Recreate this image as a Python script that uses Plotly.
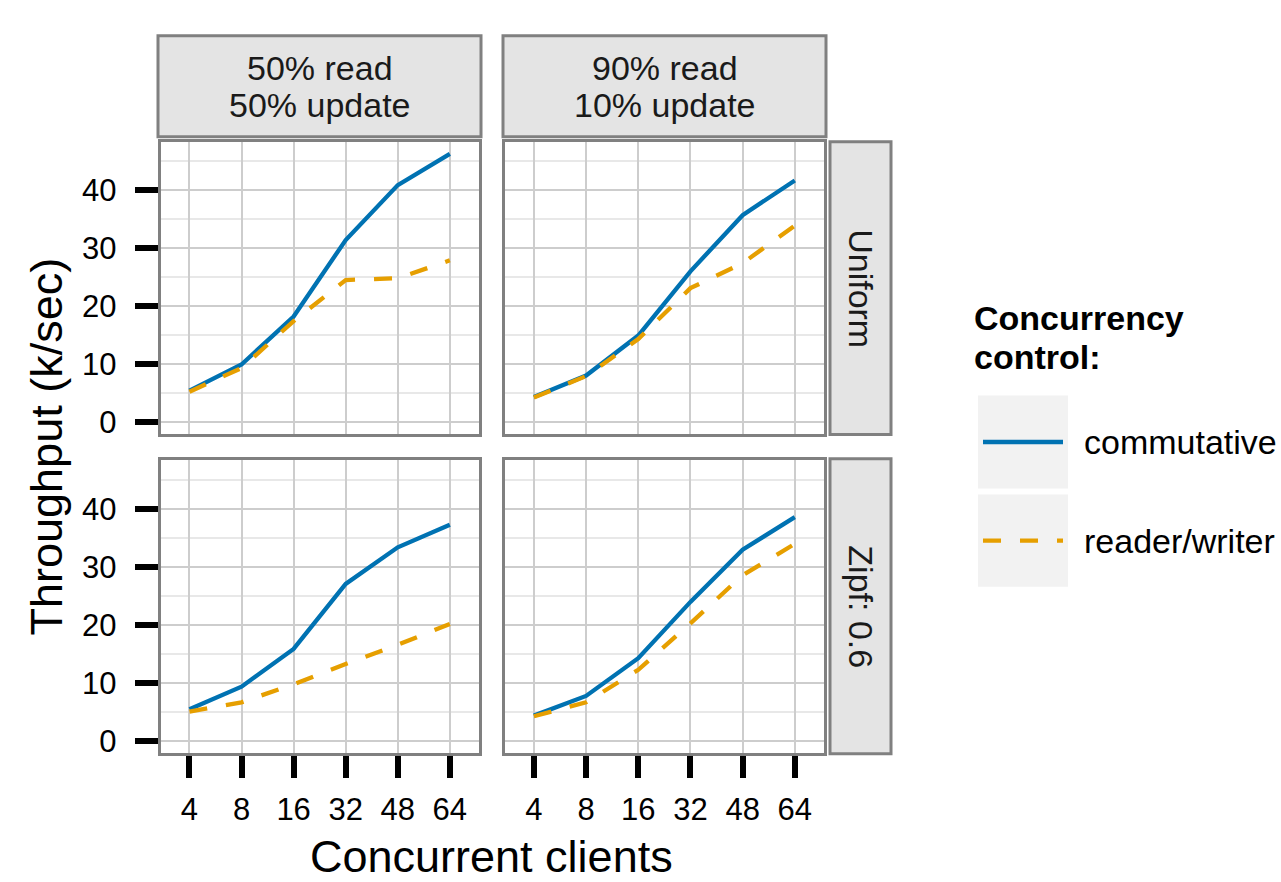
import plotly.graph_objects as go

# ---------------- data ----------------
clients = ["4", "8", "16", "32", "48", "64"]
col_labels = ["50% read<br>50% update", "90% read<br>10% update"]
row_labels = ["Uniform", "Zipf: 0.6"]
series_names = ["commutative", "reader/writer"]

uniform_50_commutative = [5.4, 9.9, 18.2, 31.4, 40.9, 46.3]
uniform_50_readerwriter = [5.2, 9.3, 17.4, 24.5, 24.8, 27.9]
uniform_90_commutative = [4.3, 8.0, 14.9, 26.0, 35.7, 41.7]
uniform_90_readerwriter = [4.2, 7.9, 14.3, 23.1, 27.4, 33.9]
zipf_50_commutative = [5.5, 9.4, 15.9, 27.1, 33.4, 37.3]
zipf_50_readerwriter = [5.1, 6.7, 9.8, 13.3, 16.6, 20.2]
zipf_90_commutative = [4.4, 7.8, 14.3, 24.0, 33.0, 38.6]
zipf_90_readerwriter = [4.3, 6.7, 12.3, 20.3, 28.6, 34.0]

y_ticks = [0, 10, 20, 30, 40]

panels = {
    (0, 0): (uniform_50_commutative, uniform_50_readerwriter),
    (0, 1): (uniform_90_commutative, uniform_90_readerwriter),
    (1, 0): (zipf_50_commutative, zipf_50_readerwriter),
    (1, 1): (zipf_90_commutative, zipf_90_readerwriter),
}

# ---------------- style ----------------
W, H = 1281, 882          # target picture size (layout designed in these pixels)
H_PAGE = 889              # page height actually used by the figure
FONT = "Liberation Sans, Arial, Helvetica, sans-serif"
BLUE = "#0072B2"
ORANGE = "#E69F00"
BORDER = "#808080"
STRIP = "#e4e4e4"
MAJ = "#cdcdcd"
MIN = "#e8e8e8"
DASH = "18px,19px"
LW = 4.3
TICKFONT = 31
TEXTFONT = 34
TITLEFONT = 45


def px(x):
    return x / W


def py(y):
    return 1 - y / H


col_x = [(160.8, 478.5), (505.2, 823.5)]
row_y = [(141.5, 433.5), (459.8, 752.5)]
strip_top_x = [(158, 481), (503, 826)]
strip_right_y = [(141.7, 434), (458.3, 753)]

fig = go.Figure()
layout = dict(
    width=W, height=H_PAGE, margin=dict(l=0, r=0, t=0, b=0),
    paper_bgcolor="white", plot_bgcolor="white", showlegend=False,
    font=dict(family=FONT, color="black"),
)

k = 0
for (r, c), (comm, rw) in panels.items():
    k += 1
    xa = "x" if k == 1 else f"x{k}"
    ya = "y" if k == 1 else f"y{k}"
    xkey = "xaxis" if k == 1 else f"xaxis{k}"
    ykey = "yaxis" if k == 1 else f"yaxis{k}"
    bottom = r == 1
    left = c == 0
    layout[xkey] = dict(
        domain=[px(col_x[c][0]), px(col_x[c][1])], anchor=ya,
        type="category", categoryorder="array", categoryarray=clients,
        range=[-0.55, 5.55], showgrid=True, gridcolor=MAJ, gridwidth=2,
        showline=True, mirror=True, linecolor=BORDER, linewidth=3,
        zeroline=False,
        ticks="outside" if bottom else "", ticklen=22, tickwidth=5.5, tickcolor="black",
        showticklabels=bottom, tickfont=dict(size=TICKFONT, color="black", family=FONT),
        ticklabelstandoff=4,
    )
    layout[ykey] = dict(
        domain=[py(row_y[r][1]), py(row_y[r][0])], anchor=xa,
        range=[-2.1, 48.4], tickmode="array", tickvals=y_ticks,
        ticktext=[str(v) for v in y_ticks],
        showgrid=True, gridcolor=MAJ, gridwidth=2,
        minor=dict(tickmode="array", tickvals=[5, 15, 25, 35, 45], showgrid=True,
                   gridcolor=MIN, gridwidth=2, ticks=""),
        showline=True, mirror=True, linecolor=BORDER, linewidth=3,
        zeroline=False,
        ticks="outside" if left else "", ticklen=23, tickwidth=5.5, tickcolor="black",
        showticklabels=left, tickfont=dict(size=TICKFONT, color="black", family=FONT),
        ticklabelstandoff=12,
    )
    fig.add_trace(go.Scatter(x=clients, y=comm, mode="lines", name=series_names[0],
                             line=dict(color=BLUE, width=LW), xaxis=xa, yaxis=ya))
    fig.add_trace(go.Scatter(x=clients, y=rw, mode="lines", name=series_names[1],
                             line=dict(color=ORANGE, width=LW, dash=DASH), xaxis=xa, yaxis=ya))

shapes = []
annotations = []

# top strips
for c, lab in enumerate(col_labels):
    x0, x1 = strip_top_x[c]
    shapes.append(dict(type="rect", xref="paper", yref="paper",
                       x0=px(x0), x1=px(x1), y0=py(136.7), y1=py(35.7),
                       fillcolor=STRIP, line=dict(color=BORDER, width=3), layer="below"))
    l1, l2 = lab.split("<br>")
    for txt, yy in ((l1, 68), (l2, 105)):
        annotations.append(dict(text=txt, x=px((x0 + x1) / 2), y=py(yy), xref="paper", yref="paper",
                                showarrow=False, xanchor="center", yanchor="middle",
                                font=dict(size=TEXTFONT, family=FONT, color="#1a1a1a")))

# right strips
for r, lab in enumerate(row_labels):
    y0, y1 = strip_right_y[r]
    shapes.append(dict(type="rect", xref="paper", yref="paper",
                       x0=px(830), x1=px(891), y0=py(y1), y1=py(y0),
                       fillcolor=STRIP, line=dict(color=BORDER, width=3), layer="below"))
    annotations.append(dict(text=lab, x=px(861), y=py((y0 + y1) / 2), xref="paper", yref="paper",
                            showarrow=False, xanchor="center", yanchor="middle", textangle=90,
                            font=dict(size=TEXTFONT, family=FONT, color="#1a1a1a")))

# axis titles
annotations.append(dict(text="Throughput (k/sec)", x=px(47), y=py(446), xref="paper", yref="paper",
                        showarrow=False, xanchor="center", yanchor="middle", textangle=-90,
                        font=dict(size=TITLEFONT, family=FONT, color="black")))
annotations.append(dict(text="Concurrent clients", x=px(491), y=py(856), xref="paper", yref="paper",
                        showarrow=False, xanchor="center", yanchor="middle", borderpad=0,
                        font=dict(size=TITLEFONT, family=FONT, color="black")))

# legend (drawn manually)
annotations.append(dict(text="<b>Concurrency</b>", x=px(972), y=py(318), xref="paper", yref="paper",
                        showarrow=False, xanchor="left", yanchor="middle",
                        font=dict(size=TEXTFONT, family=FONT, color="black")))
annotations.append(dict(text="<b>control:</b>", x=px(972), y=py(357), xref="paper", yref="paper",
                        showarrow=False, xanchor="left", yanchor="middle",
                        font=dict(size=TEXTFONT, family=FONT, color="black")))
key_rows = [(395, 488, BLUE, "solid"), (494, 586, ORANGE, DASH)]
for (ky0, ky1, colr, dsh), name in zip(key_rows, series_names):
    shapes.append(dict(type="rect", xref="paper", yref="paper",
                       x0=px(978), x1=px(1068), y0=py(ky1), y1=py(ky0),
                       fillcolor="#f2f2f2", line=dict(width=0)))
    ym = (ky0 + ky1) / 2
    shapes.append(dict(type="line", xref="paper", yref="paper",
                       x0=px(983), x1=px(1063), y0=py(ym), y1=py(ym),
                       line=dict(color=colr, width=LW, dash=dsh)))
    annotations.append(dict(text=name, x=px(1082), y=py(ym), xref="paper", yref="paper",
                            showarrow=False, xanchor="left", yanchor="middle",
                            font=dict(size=TEXTFONT, family=FONT, color="black")))

layout["shapes"] = shapes
layout["annotations"] = annotations
fig.update_layout(**layout)

post = (
    "var s=document.documentElement.style;s.margin='0';s.padding='0';s.overflow='hidden';"
    "var b=document.body.style;b.margin='0';b.padding='0';b.overflow='hidden';"
)
fig.write_html("out.html", config={"displayModeBar": False}, post_script=post)
